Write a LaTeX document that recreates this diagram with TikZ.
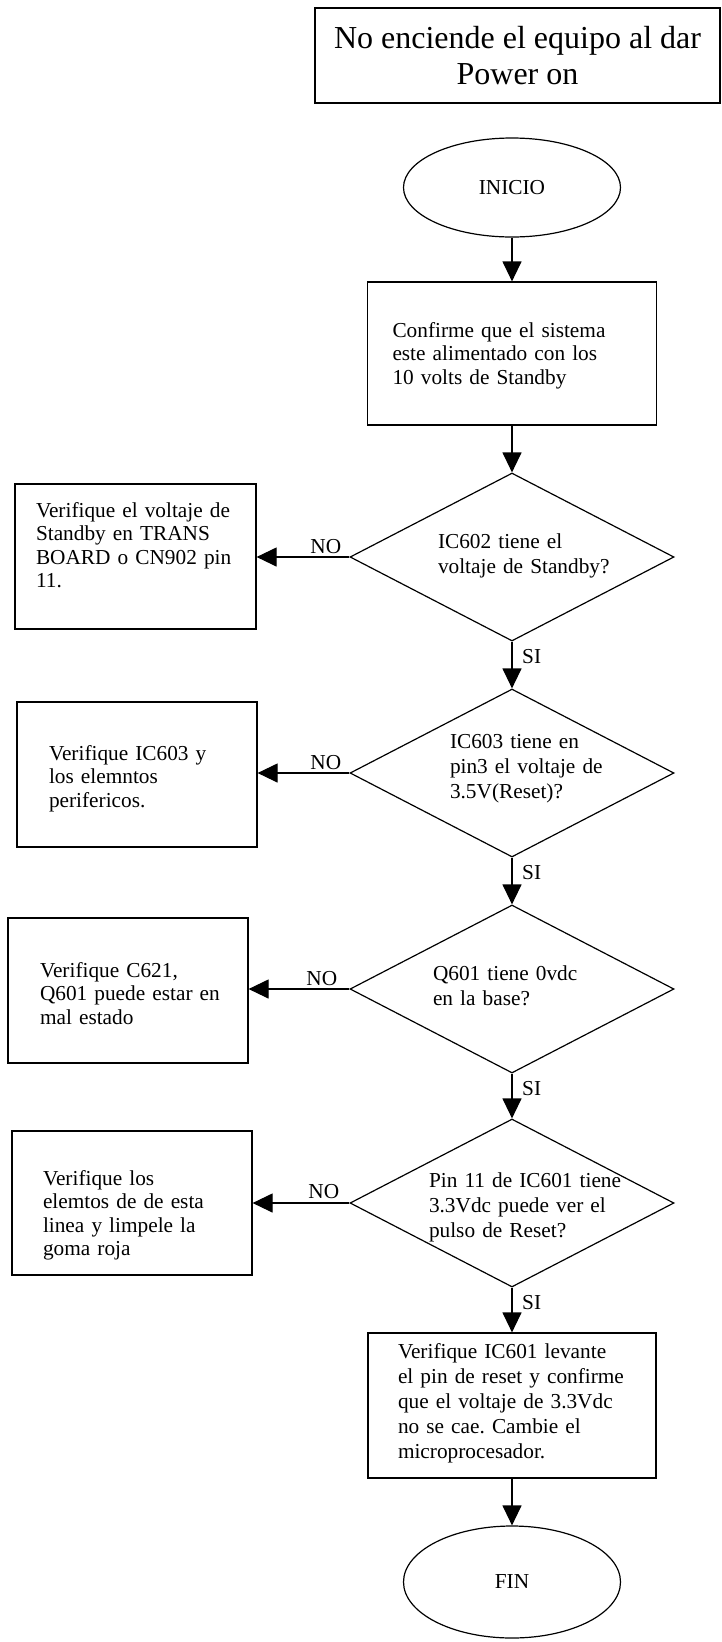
\documentclass[tikz,border=0pt]{standalone}
\usepackage{fontspec}
\setmainfont{Liberation Serif}
\usetikzlibrary{shapes.geometric,arrows.meta}
\frenchspacing
\newcommand{\bodyfont}{\fontsize{21.3pt}{23.5pt}\selectfont}
\newcommand{\widefont}{\fontsize{21.3pt}{25pt}\selectfont}
\newcommand{\titlefont}{\fontsize{32pt}{36pt}\selectfont}
\begin{document}
\begin{tikzpicture}[x=1pt,y=-1pt,
  every node/.style={font=\bodyfont},
  base/.style={draw, line width=1.2pt, inner sep=0pt},
  boxn/.style={base, rectangle, align=left},
  dia/.style={base, diamond, aspect=2, minimum width=324pt, minimum height=168pt, align=left, font=\widefont},
  oval/.style={base, ellipse, minimum width=217pt},
  arr/.style={line width=1.2pt, -{Triangle[length=20pt,width=19pt]}},
  lbl/.style={inner sep=0pt, font=\bodyfont}]
\useasboundingbox (0,0) rectangle (721,1642);
% title
\node[boxn, line width=2pt, minimum width=405pt, minimum height=95pt, align=center, font=\titlefont] (title) at (517.5,55.5) {No enciende el equipo al dar\\Power on};
% main column
\node[oval, minimum height=99pt] (ini) at (512,187.5) {INICIO};
\node[boxn, minimum width=289pt, minimum height=143pt, text width=239pt, text height=55pt, text depth=88pt] (conf) at (512,353.5)
  {\mbox{Confirme que el sistema}\\\mbox{este alimentado con los}\\\mbox{10 volts de Standby}};
\node[dia, text width=148pt, text height=20pt, text depth=38pt] (d1) at (512,557)
  {\mbox{IC602 tiene el}\\\mbox{voltaje de Standby?}};
\node[dia, text width=124pt, text height=15pt, text depth=65pt] (d2) at (512,773)
  {\mbox{IC603 tiene en}\\\mbox{pin3 el voltaje de}\\\mbox{3.5V(Reset)?}};
\node[dia, text width=158pt, text height=20pt, text depth=38pt] (d3) at (512,989)
  {\mbox{Q601 tiene 0vdc}\\\mbox{en la base?}};
\node[dia, text width=166pt, text height=20pt, text depth=52pt] (d4) at (512,1203)
  {\mbox{Pin 11 de IC601 tiene}\\\mbox{3.3Vdc puede ver el}\\\mbox{pulso de Reset?}};
\node[boxn, font=\widefont, minimum width=288pt, minimum height=145pt, text width=228pt, text height=25pt, text depth=120pt] (bf) at (512,1405.5)
  {\mbox{Verifique IC601 levante}\\\mbox{el pin de reset y confirme}\\\mbox{que el voltaje de 3.3Vdc}\\\mbox{no se cae. Cambie el}\\\mbox{microprocesador.}};
\node[oval, minimum height=112pt] (fin) at (512,1582) {FIN};
% left boxes
\node[boxn, minimum width=241pt, minimum height=145pt, text width=199pt, text height=33pt, text depth=112pt] (b1) at (135.5,556.5)
  {\mbox{Verifique el voltaje de}\\\mbox{Standby en TRANS}\\\mbox{BOARD o CN902 pin}\\\mbox{11.}};
\node[boxn, minimum width=240pt, minimum height=145pt, text width=176pt, text height=58pt, text depth=87pt] (b2) at (137,774.5)
  {\mbox{Verifique IC603 y}\\\mbox{los elemntos}\\\mbox{perifericos.}};
\node[boxn, minimum width=240pt, minimum height=145pt, text width=176pt, text height=59pt, text depth=86pt] (b3) at (128,990.5)
  {\mbox{Verifique C621,}\\\mbox{Q601 puede estar en}\\\mbox{mal estado}};
\node[boxn, minimum width=240pt, minimum height=144pt, text width=178pt, text height=54pt, text depth=90pt] (b4) at (132,1203)
  {\mbox{Verifique los}\\\mbox{elemtos de de esta}\\\mbox{linea y limpele la}\\\mbox{goma roja}};
% connectors
\draw[arr] (ini.south) -- (conf.north);
\draw[arr] (conf.south) -- (d1.north);
\draw[arr] (d1.south) -- (d2.north);
\draw[arr] (d2.south) -- (d3.north);
\draw[arr] (d3.south) -- (d4.north);
\draw[arr] (d4.south) -- (bf.north);
\draw[arr] (bf.south) -- (fin.north);
\draw[arr] (d1.west) -- (d1.west -| b1.east);
\draw[arr] (d2.west) -- (d2.west -| b2.east);
\draw[arr] (d3.west) -- (d3.west -| b3.east);
\draw[arr] (d4.west) -- (d4.west -| b4.east);
% labels
\node[lbl, anchor=base east] (no1) at ([xshift=-8pt,yshift=4pt]d1.west) {NO};
\node[lbl, anchor=base east] (no2) at ([xshift=-8pt,yshift=4pt]d2.west) {NO};
\node[lbl, anchor=base east] (no3) at ([xshift=-12pt,yshift=4pt]d3.west) {NO};
\node[lbl, anchor=base east] (no4) at ([xshift=-10pt,yshift=5pt]d4.west) {NO};
\node[lbl, anchor=base west] (si1) at ([xshift=10pt,yshift=-22pt]d1.south) {SI};
\node[lbl, anchor=base west] (si2) at ([xshift=10pt,yshift=-22pt]d2.south) {SI};
\node[lbl, anchor=base west] (si3) at ([xshift=10pt,yshift=-22pt]d3.south) {SI};
\node[lbl, anchor=base west] (si4) at ([xshift=10pt,yshift=-22pt]d4.south) {SI};
\end{tikzpicture}
\end{document}
